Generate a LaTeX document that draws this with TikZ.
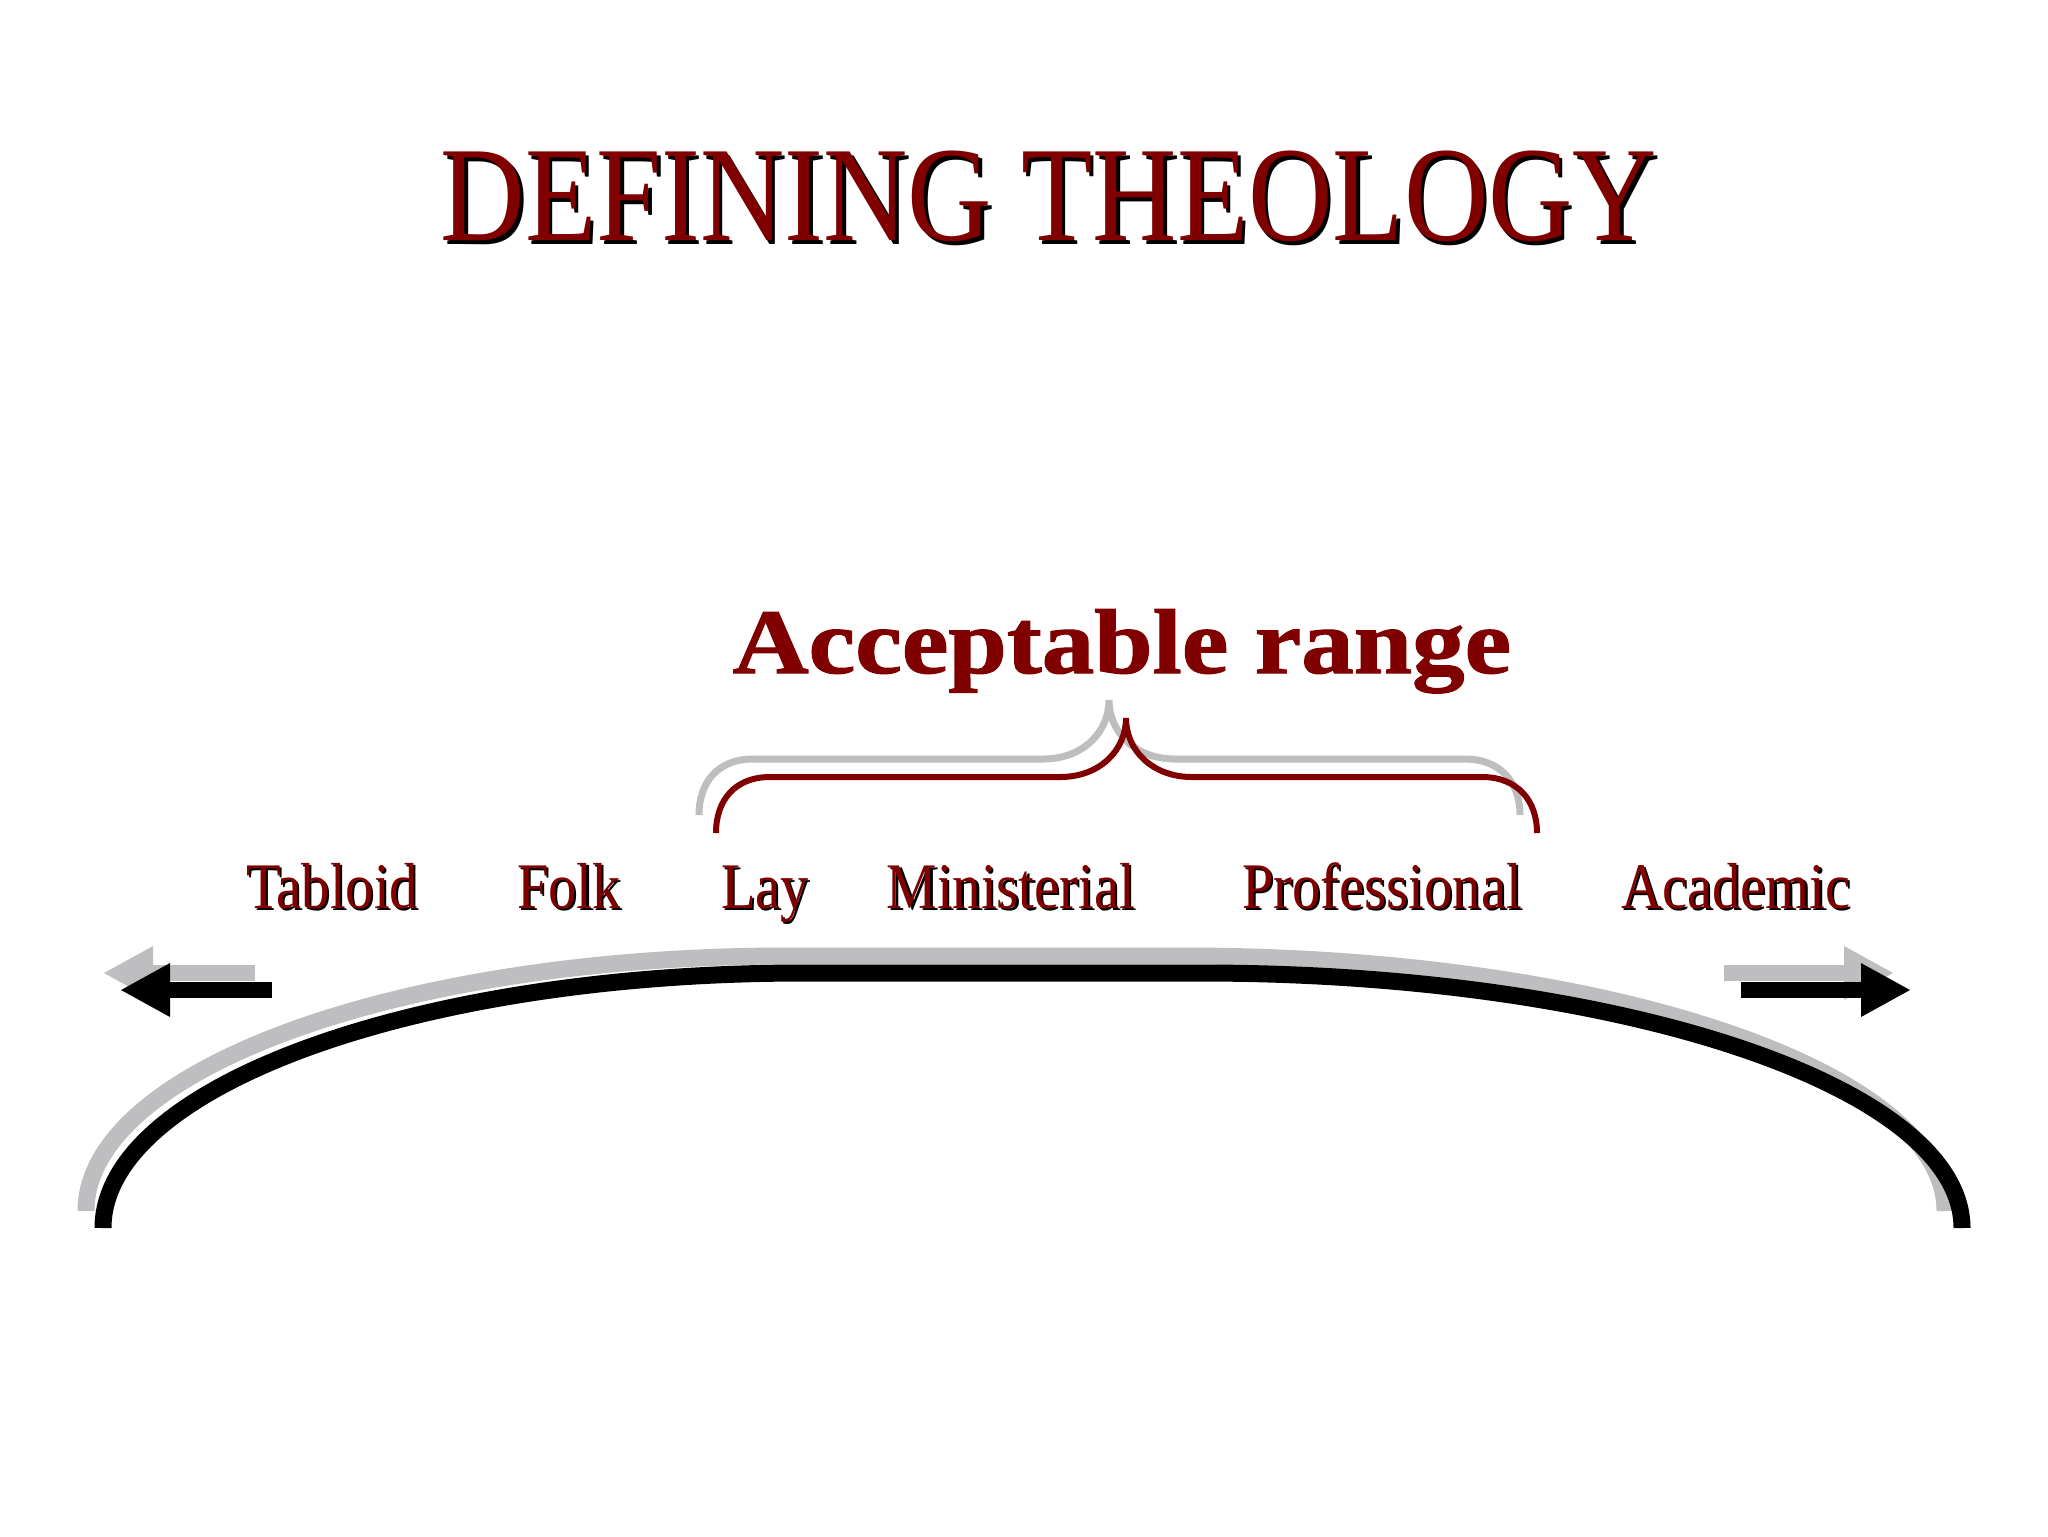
\documentclass[tikz,border=0pt]{standalone}
\usepackage{fontspec}
\setmainfont{Liberation Serif}
\usetikzlibrary{arrows.meta}

\definecolor{theored}{RGB}{128,0,0}
\definecolor{shadegray}{RGB}{190,190,192}

% red text over a black copy set a little lower right
\newcommand\shadowed[2]{\rlap{\kern#2\raisebox{-#2}{\color{black}#1}}#1}
\newcommand\lbl[1]{\scalebox{0.87}[1]{\shadowed{#1}{0.25mm}}}

\newcommand\rangebrace{(716,833) .. controls (716,800) and (735,777) .. (770,777)
  -- (1060,777) .. controls (1100,777) and (1126,750) .. (1126,718)
  .. controls (1126,750) and (1152,777) .. (1192,777)
  -- (1482,777) .. controls (1517,777) and (1537,800) .. (1537,833)}
\newcommand\spanarc{(103,1228) .. controls (103,1087) and (416,973) .. (803,973)
  -- (1201,973) .. controls (1621,973) and (1962,1087) .. (1962,1228)}

\tikzset{
  spectrum/.style={font=\fontsize{18.5}{20}\selectfont, text=theored, anchor=base, inner sep=0pt},
  bigarrow/.style={line width=1.6mm, -{Triangle[length=5mm,width=5mm]}}
}

\begin{document}
\begin{tikzpicture}[x=0.1mm, y=-0.1mm]
  \useasboundingbox[fill=white] (0,0) rectangle (2048,1536);

  \node[anchor=base, inner sep=0pt, text=theored, font=\fontsize{38.5}{40}\selectfont]
    (title) at (1049,240) {\scalebox{0.863}[1]{\shadowed{DEFINING THEOLOGY}{0.4mm}}};

  \node[anchor=base, inner sep=0pt, text=theored,
        font=\bfseries\addfontfeature{FakeBold=1.2}\fontsize{26.2}{28}\selectfont]
    (range) at (1122,673) {\scalebox{1.14}[1]{Acceptable range}};

  % brace with its grey shadow
  \draw[shadegray, line width=0.7mm, shift={(-17,-18)}] \rangebrace;
  \draw[theored, line width=0.6mm] \rangebrace;

  \node[spectrum] (tabloid) at (332,908) {\lbl{Tabloid}};
  \node[spectrum] (folk) at (569,908) {\lbl{Folk}};
  \node[spectrum] (lay) at (765,908) {\lbl{Lay}};
  \node[spectrum] (ministerial) at (1011,908) {\lbl{Ministerial}};
  \node[spectrum] (professional) at (1382,908) {\lbl{Professional}};
  \node[spectrum] (academic) at (1736,908) {\lbl{Academic}};

  % the scale and its two ends
  \coordinate (ltail) at (272,990);
  \coordinate (lhead) at (120,990);
  \coordinate (rtail) at (1741,990);
  \coordinate (rhead) at (1911,990);
  \draw[bigarrow, shadegray] ([shift={(-17,-17)}]ltail) -- ([shift={(-17,-17)}]lhead);
  \draw[bigarrow, shadegray] ([shift={(-17,-17)}]rtail) -- ([shift={(-17,-17)}]rhead);
  \draw[bigarrow] (ltail) -- (lhead);
  \draw[bigarrow] (rtail) -- (rhead);

  \draw[shadegray, line width=1.7mm, shift={(-17,-17)}] \spanarc;
  \draw[line width=1.7mm] \spanarc;
\end{tikzpicture}
\end{document}
